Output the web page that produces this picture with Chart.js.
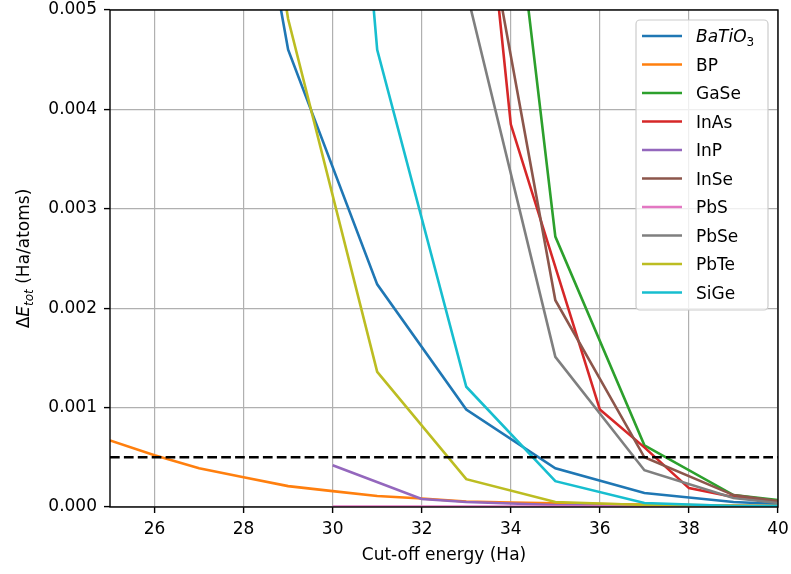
<!DOCTYPE html>
<html>
<head>
<meta charset="utf-8">
<script src="https://cdn.jsdelivr.net/npm/chart.js@4.4.1/dist/chart.umd.min.js"></script>
<style>
  html, body { margin: 0; padding: 0; background: #fff; }
  #wrap { width: 791px; height: 574px; }
</style>
</head>
<body>
<div id="wrap"><canvas id="conv" width="791" height="574"></canvas></div>
<script>
// cut-off energy axis ticks (Ha) and energy-difference ticks (Ha/atom)
const cutoffTicks = [26, 28, 30, 32, 34, 36, 38, 40];
const energyTicks = [0, 0.001, 0.002, 0.003, 0.004, 0.005];
const tolerance = 0.0005;

const materials = ['BaTiO3', 'BP', 'GaSe', 'InAs', 'InP', 'InSe', 'PbS', 'PbSe', 'PbTe', 'SiGe'];
const colors = ['#1f77b4', '#ff7f0e', '#2ca02c', '#d62728', '#9467bd',
                '#8c564b', '#e377c2', '#7f7f7f', '#bcbd22', '#17becf'];

// convergence curves: cut-off (Ha) -> delta E_tot (Ha/atom)
const batio3Cut = [27, 29, 31, 33, 35, 37, 39, 40];
const batio3 = [0.0096, 0.0046, 0.00224, 0.00098, 0.00039, 0.00014, 0.00005, 0.00003];
const bpCut = [25, 26, 27, 28, 29, 30, 31, 32, 33, 34, 35, 36, 37, 38, 39, 40];
const bp = [0.00067, 0.00052, 0.00039, 0.00030, 0.00021, 0.00016, 0.00011, 0.000085,
            0.000055, 0.000045, 0.000037, 0.00003, 0.000025, 0.00002, 0.000015, 0.00001];
const gaseCut = [33, 35, 37, 39, 40];
const gase = [0.0103, 0.00272, 0.00062, 0.00012, 0.00007];
const inasCut = [33, 34, 36, 37, 38, 39, 40];
const inas = [0.0082, 0.00385, 0.00098, 0.0006, 0.00019, 0.0001, 0.00005];
const inpCut = [30, 32, 33, 35, 37, 40];
const inp = [0.00042, 0.00008, 0.00005, 0.00002, 0.00001, 0.00001];
const inseCut = [33, 35, 37, 39, 40];
const inse = [0.0070, 0.00208, 0.0005, 0.00012, 0.00006];
const pbsCut = [30, 32, 34, 36, 38, 40];
const pbs = [0.000005, 0.000005, 0.000005, 0.000005, 0.000005, 0.000005];
const pbseCut = [33, 35, 37, 39, 40];
const pbse = [0.0052, 0.00151, 0.00037, 0.00009, 0.00004];
const pbteCut = [27, 29, 31, 33, 35, 37, 40];
const pbte = [0.0105, 0.00491, 0.00136, 0.00028, 0.00005, 0.00002, 0.00001];
const sigeCut = [30, 31, 33, 35, 37, 39, 40];
const sige = [0.0098, 0.0046, 0.00121, 0.00026, 0.00004, 0.00001, 0.00001];

const cuts = [batio3Cut, bpCut, gaseCut, inasCut, inpCut, inseCut, pbsCut, pbseCut, pbteCut, sigeCut];
const values = [batio3, bp, gase, inas, inp, inse, pbs, pbse, pbte, sige];

const FONT = '"DejaVu Sans", sans-serif';

const datasets = materials.map((name, i) => ({
  label: name,
  data: cuts[i].map((c, k) => ({ x: c, y: values[i][k] })),
  borderColor: colors[i],
  borderWidth: 2.6,
  pointRadius: 0,
  tension: 0,
  clip: 0,
  order: materials.length - i
}));

datasets.push({
  label: 'tolerance',
  data: [{ x: 25, y: tolerance }, { x: 40, y: tolerance }],
  borderColor: '#000',
  borderWidth: 2.6,
  borderDash: [9.7, 4.2],
  pointRadius: 0,
  clip: 0,
  order: -1
});

function drawParts(ctx, parts, x, y) {
  for (const p of parts) {
    ctx.font = p.f;
    ctx.fillText(p.t, x, y + (p.dy || 0));
    x += ctx.measureText(p.t).width;
  }
}

function partsWidth(ctx, parts) {
  let w = 0;
  for (const p of parts) { ctx.font = p.f; w += ctx.measureText(p.t).width; }
  return w;
}

const decorations = {
  id: 'decorations',
  afterDatasetsDraw(chart) {
    const { ctx, chartArea: a } = chart;
    ctx.save();
    ctx.strokeStyle = '#000';
    ctx.lineWidth = 1.4;
    ctx.strokeRect(a.left, a.top, a.right - a.left, a.bottom - a.top);
    ctx.restore();
  },
  afterDraw(chart) {
    const { ctx, chartArea: a } = chart;
    ctx.save();
    ctx.fillStyle = '#000';
    ctx.textBaseline = 'alphabetic';

    // x title
    ctx.font = '17px ' + FONT;
    ctx.textAlign = 'center';
    ctx.fillText('Cut-off energy (Ha)', (a.left + a.right) / 2, 560);

    // y title with math-style subscript
    ctx.textAlign = 'left';
    const yParts = [
      { t: 'Δ', f: '17px ' + FONT },
      { t: 'E', f: 'italic 17px ' + FONT },
      { t: 'tot', f: 'italic 12px ' + FONT, dy: 3.5 },
      { t: ' (Ha/atoms)', f: '17px ' + FONT }
    ];
    ctx.save();
    ctx.translate(29, (a.top + a.bottom) / 2);
    ctx.rotate(-Math.PI / 2);
    drawParts(ctx, yParts, -partsWidth(ctx, yParts) / 2, 0);
    ctx.restore();

    // legend box
    const lx = 636, ly = 20, lw = 132, lh = 290;
    ctx.beginPath();
    ctx.roundRect(lx, ly, lw, lh, 4);
    ctx.fillStyle = 'rgba(255,255,255,0.8)';
    ctx.fill();
    ctx.strokeStyle = '#cccccc';
    ctx.lineWidth = 1.2;
    ctx.stroke();

    materials.forEach((name, i) => {
      const y = 36 + i * 28.5;
      ctx.beginPath();
      ctx.moveTo(642, y);
      ctx.lineTo(682, y);
      ctx.strokeStyle = colors[i];
      ctx.lineWidth = 2.6;
      ctx.stroke();
      ctx.fillStyle = '#000';
      if (name === 'BaTiO3') {
        drawParts(ctx, [
          { t: 'BaTiO', f: 'italic 17px ' + FONT },
          { t: '3', f: '12px ' + FONT, dy: 3.5 }
        ], 696, y + 6);
      } else {
        ctx.font = '17px ' + FONT;
        ctx.fillText(name, 696, y + 6);
      }
    });
    ctx.restore();
  }
};

new Chart(document.getElementById('conv'), {
  type: 'line',
  data: { datasets },
  options: {
    responsive: false,
    animation: false,
    devicePixelRatio: 1,
    layout: { padding: { left: 0, right: 13, top: 10, bottom: 0 } },
    plugins: {
      legend: { display: false },
      tooltip: { enabled: false }
    },
    scales: {
      x: {
        type: 'linear',
        min: 25,
        max: 40,
        afterBuildTicks: s => { s.ticks = cutoffTicks.map(v => ({ value: v })); },
        afterFit: s => { s.height = 67; s.paddingLeft = 0; s.paddingRight = 0; },
        border: { display: false },
        grid: { color: '#b0b0b0', lineWidth: 1.2, tickColor: '#000', tickLength: 6, tickWidth: 1.4 },
        ticks: { color: '#000', font: { family: FONT, size: 17 }, padding: 6, callback: v => String(v) }
      },
      y: {
        type: 'linear',
        min: 0,
        max: 0.005,
        afterBuildTicks: s => { s.ticks = energyTicks.map(v => ({ value: v })); },
        afterFit: s => { s.width = 110; s.paddingTop = 0; s.paddingBottom = 0; },
        border: { display: false },
        grid: { color: '#b0b0b0', lineWidth: 1.2, tickColor: '#000', tickLength: 6, tickWidth: 1.4 },
        ticks: { color: '#000', font: { family: FONT, size: 17 }, padding: 7, callback: v => v.toFixed(3) }
      }
    }
  },
  plugins: [decorations]
});
</script>
</body>
</html>
